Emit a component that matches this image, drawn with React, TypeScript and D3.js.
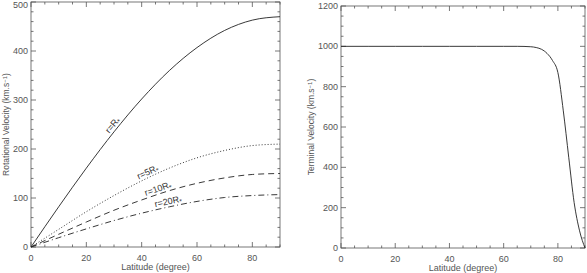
import * as d3 from "d3";

// latitude samples (degree) for the rotational velocity curves
const latitudes = [0, 10, 20, 30, 40, 50, 60, 70, 80, 90];
const vRotR = [0, 82, 161, 235, 302, 360, 407, 442, 463, 470];
const vRot5R = [0, 36, 72, 105, 135, 161, 182, 197, 207, 210];
const vRot10R = [0, 26, 51, 75, 96, 115, 130, 141, 148, 150];
const vRot20R = [0, 19, 37, 54, 69, 82, 93, 101, 105, 107];

const rotLabels = ["r=R", "r=5R", "r=10R", "r=20R"];
const rotLabelLat = [31, 43, 46.5, 50];

// terminal velocity
const termLat = [0, 10, 20, 30, 40, 50, 60, 65, 70, 72, 74, 76, 78, 80, 82, 84, 86, 88, 90];
const termVel = [1000, 1000, 1000, 1000, 1000, 1000, 1000, 1000, 998, 994, 985, 965, 930, 870, 680, 450, 225, 85, 0];

const xTicks = [0, 20, 40, 60, 80];
const rotYTicks = [0, 100, 200, 300, 400, 500];
const termYTicks = [0, 200, 400, 600, 800, 1000, 1200];

const W = 587;
const H = 273;
const axisColor = "#555";
const textColor = "#555";
const font = "Liberation Sans, Arial, sans-serif";

type PanelProps = {
  x0: number; x1: number; y0: number; y1: number;
  yMax: number; yTicks: number[]; yMinor: number; yTitle: string; titleOff: number;
  children: (x: d3.ScaleLinear<number, number>, y: d3.ScaleLinear<number, number>) => any;
};

const Panel = (p: PanelProps) => {
  const x = d3.scaleLinear().domain([0, 90]).range([p.x0, p.x1]);
  const y = d3.scaleLinear().domain([0, p.yMax]).range([p.y1, p.y0]);
  const xMinor = d3.range(0, 90.01, 5);
  const yMinor = d3.range(0, p.yMax + 0.01, p.yMinor);
  const major = 5;
  const minor = 2.5;
  return (
    <g>
      <rect x={p.x0} y={p.y0} width={p.x1 - p.x0} height={p.y1 - p.y0} fill="none" stroke={axisColor} strokeWidth={0.8} />
      {xMinor.map((v) => {
        const len = v % 20 === 0 ? major : minor;
        return (
          <g key={"xt" + v}>
            <line x1={x(v)} x2={x(v)} y1={p.y1} y2={p.y1 - len} stroke={axisColor} strokeWidth={0.8} />
            <line x1={x(v)} x2={x(v)} y1={p.y0} y2={p.y0 + len} stroke={axisColor} strokeWidth={0.8} />
          </g>
        );
      })}
      {yMinor.map((v) => {
        const len = p.yTicks.includes(v) ? major : minor;
        return (
          <g key={"yt" + v}>
            <line x1={p.x0} x2={p.x0 + len} y1={y(v)} y2={y(v)} stroke={axisColor} strokeWidth={0.8} />
            <line x1={p.x1} x2={p.x1 - len} y1={y(v)} y2={y(v)} stroke={axisColor} strokeWidth={0.8} />
          </g>
        );
      })}
      {xTicks.map((v) => (
        <text key={"xl" + v} x={x(v)} y={p.y1 + 14} textAnchor="middle" fontSize={9} fill={textColor} fontFamily={font}>{v}</text>
      ))}
      {p.yTicks.map((v) => (
        <text key={"yl" + v} x={p.x0 - 3} y={Math.max(y(v) + 3, 7.5)} textAnchor="end" fontSize={9} fill={textColor} fontFamily={font}>{v}</text>
      ))}
      <text x={(p.x0 + p.x1) / 2} y={p.y1 + 23} textAnchor="middle" fontSize={9} fill={textColor} fontFamily={font}>Latitude (degree)</text>
      <text transform={`translate(${p.x0 - p.titleOff},${(p.y0 + p.y1) / 2}) rotate(-90)`} textAnchor="middle" fontSize={8.5} fill={textColor} fontFamily={font}>
        {p.yTitle} (km.s<tspan dy={-2.5} fontSize={6}>−1</tspan><tspan dy={2.5}>)</tspan>
      </text>
      {p.children(x, y)}
    </g>
  );
};

export default function App() {
  const rotSeries = [vRotR, vRot5R, vRot10R, vRot20R];
  const dashes = ["none", "1,2", "6,4", "6,3,1,3"];
  return (
    <svg width={W} height={H} style={{ position: "absolute", left: 0, top: 0, background: "#fff" }}>
      <Panel x0={31} x1={280} y0={2} y1={247} yMax={500} yTicks={rotYTicks} yMinor={20} yTitle="Rotational Velocity" titleOff={22}>
        {(x, y) => {
          const line = d3.line<number>().x((_, i) => x(latitudes[i])).y((d) => y(d)).curve(d3.curveMonotoneX);
          return rotSeries.map((s, k) => {
            const interp = d3.scaleLinear().domain(latitudes).range(s);
            const lat = rotLabelLat[k];
            const px = x(lat);
            const py = y(interp(lat));
            const dx = x(lat + 1) - x(lat - 1);
            const dy = y(interp(lat + 1)) - y(interp(lat - 1));
            const ang = (Math.atan2(dy, dx) * 180) / Math.PI;
            return (
              <g key={"s" + k}>
                <path d={line(s) ?? ""} fill="none" stroke="#222" strokeWidth={0.9} strokeDasharray={dashes[k]} />
                <text transform={`translate(${px},${py}) rotate(${ang})`} dy={-2.5} textAnchor="middle" fontSize={9} fill="#333" fontFamily={font}>
                  {rotLabels[k]}<tspan dy={2} fontSize={7}>*</tspan>
                </text>
              </g>
            );
          });
        }}
      </Panel>
      <Panel x0={341} x1={585} y0={6} y1={248} yMax={1200} yTicks={termYTicks} yMinor={50} yTitle="Terminal Velocity" titleOff={27}>
        {(x, y) => {
          const line = d3.line<number>().x((_, i) => x(termLat[i])).y((d) => y(d)).curve(d3.curveMonotoneX);
          return <path d={line(termVel) ?? ""} fill="none" stroke="#222" strokeWidth={0.9} />;
        }}
      </Panel>
    </svg>
  );
}
